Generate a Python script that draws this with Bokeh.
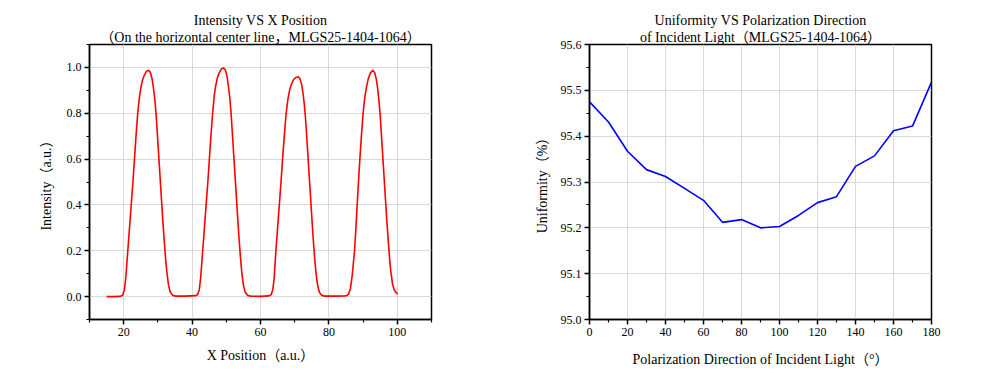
from bokeh.plotting import figure
from bokeh.layouts import row
from bokeh.models import FixedTicker, Title, PrintfTickFormatter
from bokeh.embed import file_html
from bokeh.resources import INLINE

# ---------------- data ----------------
x_position = [
    15.0, 17.0, 19.0, 19.7, 20.2, 20.6, 21.2, 21.7, 22.2, 22.7, 23.15, 23.6, 24.1, 24.6, 25.0,
    25.5, 26.0, 26.6, 27.3, 27.8, 28.3, 28.7, 29.1, 29.45, 29.8, 30.2, 30.6, 31.0, 31.4, 31.8,
    32.2, 32.6, 33.1, 33.6, 34.3, 35.2, 38.0,
    41.0, 41.6, 42.1, 42.5, 43.1, 43.6, 44.1, 44.6, 45.05, 45.5, 46.0, 46.5, 46.9, 47.4, 47.9,
    48.5, 49.15, 49.7, 50.2, 50.6, 51.0, 51.35, 51.7, 52.1, 52.5, 52.9, 53.3, 53.7, 54.1, 54.5,
    55.0, 55.5, 56.2, 57.1, 60.0,
    62.5, 63.1, 63.6, 64.0, 64.5, 65.0, 65.5, 66.0, 66.45, 66.95, 67.5, 68.0, 68.5, 69.0, 69.6,
    70.3, 71.04, 71.55, 72.05, 72.45, 72.8, 73.1, 73.45, 73.85, 74.25, 74.65, 75.05, 75.45,
    75.85, 76.25, 76.75, 77.25, 77.9, 78.7, 82.0,
    84.7, 85.3, 85.8, 86.3, 86.8, 87.5, 87.9, 88.26, 88.65, 89.05, 89.5, 90.0, 90.5, 91.0, 91.5,
    92.1, 92.85, 93.35, 93.85, 94.25, 94.6, 94.95, 95.3, 95.7, 96.1, 96.5, 96.9, 97.3, 97.7,
    98.1, 98.6, 99.1, 99.6, 100.1,
]
intensity = [
    0.0, 0.0, 0.001, 0.006, 0.03, 0.08, 0.20, 0.30, 0.40, 0.50, 0.60, 0.70, 0.80, 0.87, 0.91,
    0.945, 0.965, 0.982, 0.988, 0.978, 0.95, 0.91, 0.86, 0.80, 0.72, 0.625, 0.53, 0.435, 0.34, 0.255,
    0.175, 0.11, 0.05, 0.02, 0.006, 0.002, 0.002,
    0.004, 0.008, 0.03, 0.08, 0.20, 0.30, 0.40, 0.50, 0.60, 0.70, 0.80, 0.88, 0.92, 0.955, 0.975,
    0.992, 0.998, 0.99, 0.962, 0.92, 0.87, 0.81, 0.73, 0.635, 0.54, 0.445, 0.35, 0.26, 0.18, 0.11,
    0.05, 0.02, 0.006, 0.002, 0.001,
    0.003, 0.008, 0.03, 0.08, 0.20, 0.30, 0.40, 0.50, 0.60, 0.70, 0.80, 0.86, 0.90, 0.925, 0.945,
    0.956, 0.959, 0.95, 0.925, 0.885, 0.84, 0.79, 0.715, 0.62, 0.525, 0.43, 0.335, 0.245,
    0.165, 0.10, 0.045, 0.018, 0.006, 0.002, 0.002,
    0.003, 0.005, 0.012, 0.035, 0.09, 0.20, 0.30, 0.40, 0.50, 0.60, 0.70, 0.80, 0.87, 0.915, 0.95,
    0.975, 0.988, 0.978, 0.95, 0.91, 0.86, 0.80, 0.72, 0.625, 0.53, 0.435, 0.34, 0.255, 0.175,
    0.11, 0.055, 0.03, 0.018, 0.011,
]

polarization_deg = [0, 10, 20, 30, 40, 50, 60, 70, 80, 90, 100, 110, 120, 130, 140, 150, 160, 170, 180]
uniformity = [95.475, 95.431, 95.367, 95.327, 95.312, 95.286, 95.260, 95.212, 95.218, 95.200,
              95.203, 95.227, 95.255, 95.268, 95.334, 95.357, 95.412, 95.422, 95.518]

left_x_ticks = [20, 40, 60, 80, 100]
left_x_minor = [10, 30, 50, 70, 90, 110]
left_y_ticks = [0.0, 0.2, 0.4, 0.6, 0.8, 1.0]
left_y_minor = [-0.1, 0.1, 0.3, 0.5, 0.7, 0.9, 1.1]
right_x_ticks = [0, 20, 40, 60, 80, 100, 120, 140, 160, 180]
right_x_minor = [10, 30, 50, 70, 90, 110, 130, 150, 170]
right_y_ticks = [95.0, 95.1, 95.2, 95.3, 95.4, 95.5, 95.6]
right_y_minor = [95.05, 95.15, 95.25, 95.35, 95.45, 95.55]

left_title = ["Intensity VS X Position", "（On the horizontal center line，MLGS25-1404-1064）"]
right_title = ["Uniformity VS Polarization Direction", "of Incident Light（MLGS25-1404-1064）"]

FONT = "Liberation Serif, Noto Sans CJK SC"


def style(p, xt, xm, yt, ym, yfmt, xlab_standoff, ylab_standoff):
    p.outline_line_color = "black"
    p.outline_line_width = 1.5
    p.outline_line_alpha = 1.0
    p.xaxis.ticker = FixedTicker(ticks=xt, minor_ticks=xm)
    p.yaxis.ticker = FixedTicker(ticks=yt, minor_ticks=ym)
    if yfmt:
        p.yaxis.formatter = PrintfTickFormatter(format=yfmt)
    for ax in (p.xaxis, p.yaxis):
        ax.axis_line_width = 1.5
        ax.axis_line_color = "black"
        ax.major_tick_line_color = "black"
        ax.minor_tick_line_color = "black"
        ax.major_tick_line_width = 1.5
        ax.minor_tick_line_width = 1.2
        ax.major_tick_in = 0
        ax.major_tick_out = 5
        ax.minor_tick_in = 0
        ax.minor_tick_out = 3
        ax.major_label_standoff = 3
        ax.major_label_text_font = FONT
        ax.major_label_text_font_size = "12px"
        ax.major_label_text_color = "black"
        ax.axis_label_text_font = FONT
        ax.axis_label_text_font_size = "14px"
        ax.axis_label_text_font_style = "normal"
        ax.axis_label_text_color = "black"
    p.xaxis.axis_label_standoff = xlab_standoff
    p.yaxis.axis_label_standoff = ylab_standoff
    p.xgrid.ticker = FixedTicker(ticks=xt)
    p.ygrid.ticker = FixedTicker(ticks=yt)
    for g in (p.xgrid, p.ygrid):
        g.grid_line_color = "#d9d9d9"
        g.grid_line_width = 1


def add_title(p, lines):
    # second line first: it sits next to the frame, the first line goes above it
    for txt in (lines[1], lines[0]):
        t = Title(text=txt, align="center", text_font=FONT, text_font_size="14px",
                  text_font_style="normal", text_color="black", standoff=0, offset=0)
        p.add_layout(t, "above")


# ---------------- left chart ----------------
p1 = figure(width=500, height=375, x_range=(10, 110), y_range=(-0.1, 1.1),
            output_backend="svg", toolbar_location=None, title=None,
            min_border_left=89, min_border_right=69, min_border_top=44, min_border_bottom=56,
            background_fill_color="white", border_fill_color="white")
p1.line(x_position, intensity, line_color="#ff0000", line_width=1.6)
p1.xaxis.axis_label = "X Position（a.u.）"
p1.yaxis.axis_label = "Intensity（a.u.）"
style(p1, left_x_ticks, left_x_minor, left_y_ticks, left_y_minor, "%.1f", 9, 10)
add_title(p1, left_title)

# ---------------- right chart ----------------
p2 = figure(width=492, height=375, x_range=(0, 180), y_range=(95.0, 95.6),
            output_backend="svg", toolbar_location=None, title=None,
            min_border_left=89, min_border_right=61, min_border_top=44, min_border_bottom=56,
            background_fill_color="white", border_fill_color="white")
p2.line(polarization_deg, uniformity, line_color="#0000ff", line_width=1.6)
p2.xaxis.axis_label = "Polarization Direction of Incident Light（°）"
p2.yaxis.axis_label = "Uniformity（%）"
style(p2, right_x_ticks, right_x_minor, right_y_ticks, right_y_minor, "%.1f", 13, 8)
add_title(p2, right_title)

layout = row(p1, p2)
open("out.html", "w").write(file_html(layout, INLINE))
